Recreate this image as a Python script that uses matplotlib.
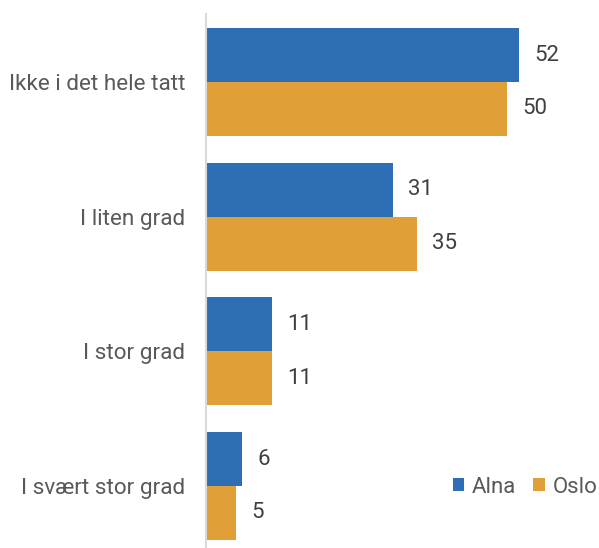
import numpy as np
import matplotlib.pyplot as plt

categories = ['Ikke i det hele tatt', 'I liten grad', 'I stor grad', 'I svært stor grad']
alna = [52, 31, 11, 6]
oslo = [50, 35, 11, 5]
series_names = ['Alna', 'Oslo']


def main():
    plt.rcParams['font.family'] = ['Roboto', 'DejaVu Sans']
    blue = '#2e6eb5'
    orange = '#e0a037'

    fig = plt.figure(figsize=(5.99, 5.48), dpi=100)
    ax = fig.add_axes([206 / 599, 0, 1 - 206 / 599, (548 - 14) / 548])

    y = np.arange(len(categories))
    h = 0.4
    b1 = ax.barh(y - h / 2, alna, height=h, color=blue, label=series_names[0])
    b2 = ax.barh(y + h / 2, oslo, height=h, color=orange, label=series_names[1])

    for bars, vals in ((b1, alna), (b2, oslo)):
        for bar, v in zip(bars, vals):
            ax.annotate(str(v), (bar.get_width(), bar.get_y() + bar.get_height() / 2),
                        xytext=(11, 0), textcoords='offset points',
                        ha='left', va='center', fontsize=16, color='#404040')

    ax.set_xlim(0, 65.3)
    ax.set_ylim(3.46, -0.505)
    ax.set_yticks(y)
    ax.set_yticklabels(categories, fontsize=16.2, color='#595959')
    ax.tick_params(axis='y', length=0, pad=15)
    ax.set_xticks([])
    for s in ['top', 'right', 'bottom']:
        ax.spines[s].set_visible(False)
    ax.spines['left'].set_color('#d9d9d9')
    ax.spines['left'].set_linewidth(1.5)

    fig.legend(loc='center right', bbox_to_anchor=(0.997, 0.111), frameon=False,
               ncol=2, fontsize=16, handlelength=0.5, handleheight=0.5,
               handletextpad=0.35, columnspacing=0.8, borderpad=0, borderaxespad=0,
               labelcolor='#595959')

    fig.savefig('out.png', dpi=100)


if __name__ == "__main__":
    main()
